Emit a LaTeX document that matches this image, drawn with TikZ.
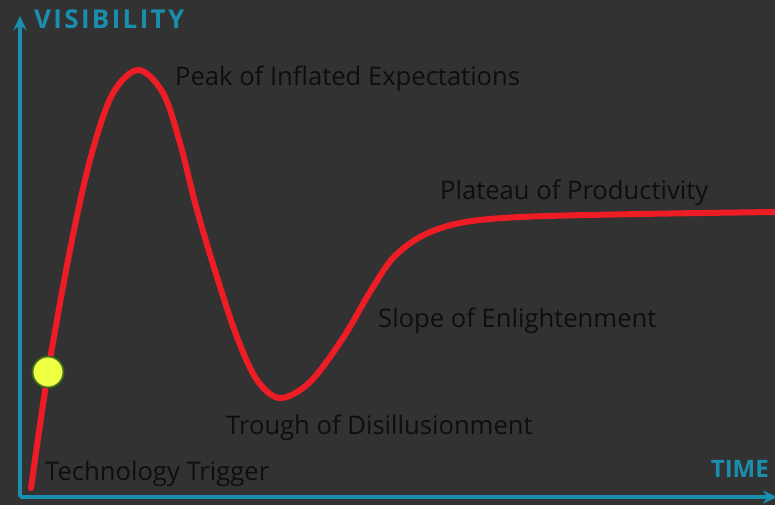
\documentclass[tikz,border=0pt]{standalone}
\usepackage{fontspec}
\setmainfont{Open Sans}
\usepackage{tikz}
\usetikzlibrary{arrows.meta, positioning}

\definecolor{bgdark}{HTML}{323232}
\definecolor{axisteal}{HTML}{1A8FAD}
\definecolor{hypered}{HTML}{EE1C25}
\definecolor{dotyellow}{HTML}{EEFF44}
\definecolor{dotrim}{HTML}{3F6B1E}
\definecolor{labink}{HTML}{0E0E0E}

\begin{document}
\begin{tikzpicture}[
  x=1pt, y=-1pt,
  >={Stealth[length=14pt, width=13pt]},
  axis/.style={line width=3.5pt, color=axisteal},
  axislab/.style={font=\fontsize{24}{26}\selectfont\bfseries, color=axisteal, inner sep=0pt},
  phase/.style={font=\fontsize{25.6}{28}\selectfont, color=labink, anchor=west, inner sep=0pt},
  hype/.style={line width=6pt, color=hypered, line cap=round, line join=round},
  trigdot/.style={circle, fill=dotyellow, draw=dotrim, line width=1.8pt, minimum size=31pt, inner sep=0pt},
]

%%% Background and page size
\fill[bgdark] (0,0) rectangle (775,505);
\useasboundingbox (0,0) rectangle (775,505);

%%% Axes
\coordinate (o)  at (20,497);
\coordinate (ytop) at (20,16);
\coordinate (xend) at (777,497);
\draw[axis, ->] (o) -- (ytop);
\draw[axis, ->] (o) -- (xend);
\node[axislab, anchor=west] (vis)  at (34,19)
  {\fontsize{26}{28}\selectfont\addfontfeature{LetterSpace=9}VISIBILITY};
\node[axislab, anchor=east] (time) at (769,469) {TIME};

%%% Hype curve
\draw[hype] plot[smooth, tension=0.55] coordinates {
  (31,488) (48,372) (70,250) (90,160) (112,95) (138,70)
  (163,93) (180,143) (197,210) (217,277) (237,337) (257,380) (280,398)
  (310,382) (343,338) (370,292) (393,258) (422,236) (460,223) (520,217)
  (640,214) (775,212)};

%%% Technology trigger dot
\node[trigdot] (trigger) at (48,372) {};

%%% Phase labels
\node[phase] (peak)    at (175,79)  {Peak of Inflated Expectations};
\node[phase] (plateau) at (440,193) {Plateau of Productivity};
\node[phase] (slope)   at (378,321) {Slope of Enlightenment};
\node[phase] (trough)  at (226,428) {Trough of Disillusionment};
\node[phase] (tech)    at (45,474)  {Technology Trigger};

\end{tikzpicture}
\end{document}
